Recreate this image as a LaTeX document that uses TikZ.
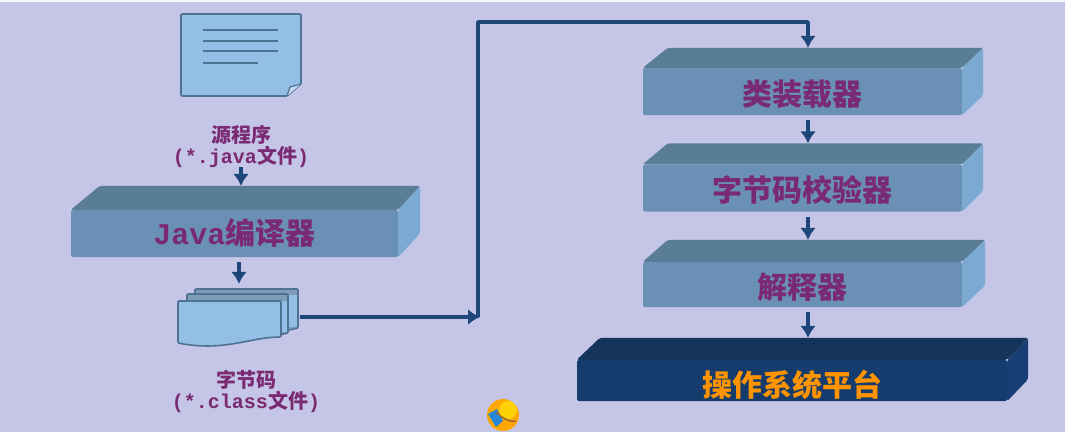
\documentclass[tikz,border=0pt]{standalone}
\usepackage{fontspec}
\setmainfont{Liberation Mono}
\newfontfamily\cjk{Noto Sans CJK SC}
\usetikzlibrary{arrows.meta}
\definecolor{Paper}{HTML}{C5C5E7}
\definecolor{BlockFront}{HTML}{6A90B6}
\definecolor{BlockTop}{HTML}{587D95}
\definecolor{BlockSide}{HTML}{7CA9D2}
\definecolor{DarkFront}{HTML}{153C6C}
\definecolor{DarkTop}{HTML}{14345A}
\definecolor{DarkSide}{HTML}{183F73}
\definecolor{PageFill}{HTML}{93BEE6}
\definecolor{PageLine}{HTML}{4E7392}
\definecolor{PageTop}{HTML}{7E9CBA}
\definecolor{FlowBlue}{HTML}{1D4679}
\definecolor{Purple}{HTML}{7A2A72}
% top and right faces of a block: name, left offset, right offset, depth
\newcommand{\BlockFaces}[6]{%
    \coordinate (#1 back) at ([shift={(#2,-#4)}]#1.north west);
    \fill[#5, rounded corners=2pt] (#1.north west) -- (#1 back) -- ([shift={(#3,-#4)}]#1.north east) -- (#1.north east) -- cycle;
    \fill[#6, rounded corners=2pt] (#1.north east) -- ([shift={(#3,-#4)}]#1.north east) -- ([shift={(#3,-#4)}]#1.south east) -- (#1.south east) -- cycle;
}
\begin{document}
\begin{tikzpicture}[x=1pt,y=-1pt]
    \tikzset{Block/.style={%
            shape=rectangle,%
            fill=BlockFront,%
            rounded corners=2pt,%
            inner sep=0pt,%
            minimum width=319pt,%
            minimum height=47pt,%
            text height=30pt,%
            text depth=3pt,%
            text=Purple,%
            font=\cjk\bfseries\fontsize{30}{31}\selectfont,%
        },
        Note/.style={%
            align=center,%
            inner sep=0pt,%
            text=Purple,%
            font=\bfseries\fontsize{20}{21}\selectfont,%
        },
        Page/.style={%
            fill=PageFill,%
            draw=PageLine,%
            line width=1.6pt,%
            line join=round,%
        },
        Back/.style={%
            fill=PageTop,%
            draw=PageLine,%
            line width=1.6pt,%
            line join=round,%
        },
        Flow/.style={%
            draw=FlowBlue,%
            line width=3.6pt,%
            line join=round,%
            -{Latex[length=12pt,width=16pt]},%
        }}

    \fill[Paper] (0,0) rectangle (1065,432);
    \fill[white!85!Paper] (0,0) rectangle (1065,2);
    \useasboundingbox (0,0) rectangle (1065,432);

    % source file
    \draw[Page, rounded corners=1pt] (181,14) -- (301,14) -- (301,84) -- (287,96) -- (181,96) -- cycle;
    \fill[PageFill!55!white] (287,96) -- (290,87) -- (301,84) -- cycle;
    \draw[PageLine, line width=1.2pt] (287,96) -- (290,87) -- (301,84);
    \foreach \y/\x in {30/278, 41/278, 51/278, 63/258}
        \draw[PageLine, line width=1.5pt] (203,\y) -- (\x,\y);
    \node[minimum width=120pt, minimum height=82pt, inner sep=0pt] (source) at (241,55) {};
    \node[Note] (sourcenote) at (241,146) {{\cjk 源程序}\\(*.java{\cjk 文件})};

    % compiler
    \node[Block, minimum width=327pt, text height=24pt] (compiler) at (234.5,233.5) {{\rmfamily Java}编译器};
    \BlockFaces{compiler}{29}{22}{24}{BlockTop}{BlockSide}

    % bytecode pages
    \draw[Back, rounded corners=1pt] (195,289) -- (298,289) -- (298,328) -- (280,332) -- (195,332) -- cycle;
    \fill[PageFill] (288.8,295) rectangle (297.2,327);
    \draw[Back, rounded corners=1pt] (187,294) -- (288,294) -- (288,333) -- (270,337) -- (187,337) -- cycle;
    \fill[PageFill] (281.8,301) rectangle (287.2,332);
    \draw[Page, rounded corners=1pt] (178,301) -- (281,301) -- (281,337) .. controls (250,337) and (225,352) .. (178,343) -- cycle;
    \node[minimum width=121pt, minimum height=58pt, inner sep=0pt] (bytecode) at (239,318) {};
    \node[Note] (bytecodenote) at (246,391) {{\cjk 字节码}\\(*.class{\cjk 文件})};

    % run time chain
    \node[Block] (loader) at (802.5,91.5) {类装载器};
    \BlockFaces{loader}{25}{21}{20}{BlockTop}{BlockSide}
    \node[Block] (verifier) at (802.5,188) {字节码校验器};
    \BlockFaces{verifier}{25}{21}{21}{BlockTop}{BlockSide}
    \node[Block, minimum height=45pt] (interpreter) at (802.5,284.5) {解释器};
    \BlockFaces{interpreter}{25}{23}{22}{BlockTop}{BlockSide}
    \node[Block, minimum width=430pt, minimum height=41pt, text height=34pt, fill=DarkFront, text={orange!85!yellow}] (platform) at (792,380.5) {操作系统平台};
    \BlockFaces{platform}{23}{21}{22}{DarkTop}{DarkSide}

    \coordinate (turn) at (478,317);
    \coordinate (top left) at (478,22);
    \coordinate (top right) at (808,22);

    \draw[Flow] (sourcenote.south) -- (sourcenote.south |- compiler back);
    \draw[Flow, shorten <=5pt, shorten >=5pt] (compiler.south -| bytecode.north) -- (bytecode.north);
    \draw[Flow] (bytecode.east |- turn) -- ([xshift=2pt]turn);
    \draw[Flow] (turn) -- (top left) -- (top right) -- (top right |- loader back);
    \draw[Flow, shorten <=5pt] (top right |- loader.south) -- (top right |- verifier back);
    \draw[Flow, shorten <=5pt] (top right |- verifier.south) -- (top right |- interpreter back);
    \draw[Flow, shorten <=5pt] (top right |- interpreter.south) -- (top right |- platform back);

    % round badge at the bottom
    \fill[orange!70!yellow] (503,415) circle (16);
    \fill[yellow!70!orange] (508,410) circle (9);
    \fill[blue!45!cyan!70!gray] (488,414) -- (497,409) -- (503,421) -- (496,427) -- cycle;
    \draw[brown!80!black, line width=1.5pt] (496,412) .. controls (503,419) and (510,422) .. (516,421);
\end{tikzpicture}
\end{document}
